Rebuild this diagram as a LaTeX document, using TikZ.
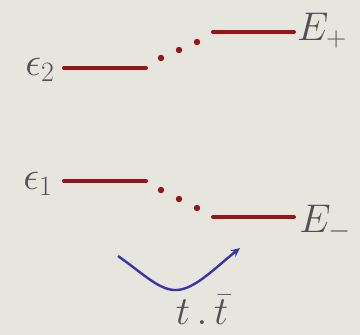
\RequirePackage{fix-cm}
\documentclass[tikz,border=0pt]{standalone}
\usetikzlibrary{arrows.meta}
\definecolor{bg}{RGB}{230,230,222}
\definecolor{lvl}{RGB}{150,20,25}
\definecolor{arr}{RGB}{60,50,170}
\definecolor{txt}{RGB}{80,80,85}
\begin{document}
\begin{tikzpicture}[x=1pt,y=-1pt,
  level/.style={draw=lvl,line width=4pt,line cap=round},
  lbl/.style={text=txt,font=\fontsize{40}{44}\selectfont,inner sep=0pt},
  dotc/.style={fill=lvl,draw=none}]
\fill[bg] (0,0) rectangle (360,335);
\useasboundingbox (0,0) rectangle (360,335);
% labels
\node[lbl] (e2) at (40,70) {$\epsilon_2$};
\node[lbl] (e1) at (38,184) {$\epsilon_1$};
\node[lbl] (Ep) at (322,31) {$E_+$};
\node[lbl] (Em) at (325,223) {$E_-$};
\node[lbl] (tt) at (202,310) {$t\,.\,\bar t$};
% level endpoints
\coordinate (a1) at (64,68); \coordinate (a2) at (146,68);
\coordinate (b1) at (213,32); \coordinate (b2) at (294,32);
\coordinate (c1) at (64,181); \coordinate (c2) at (146,181);
\coordinate (d1) at (213,217); \coordinate (d2) at (294,217);
\draw[level] (a1) -- (a2);
\draw[level] (b1) -- (b2);
\draw[level] (c1) -- (c2);
\draw[level] (d1) -- (d2);
% dotted connectors
\foreach \p in {(161,58),(179,50),(197,42),(161,190),(179,199),(197,208)}
  \fill[dotc] \p circle (3.2pt);
% blue arrow
\coordinate (s) at (118,256);
\coordinate (m) at (177,290);
\coordinate (f) at (240,248);
\draw[arr,line width=2.4pt,-{Stealth[length=9pt,width=8pt]}]
  (s) .. controls (145,275) and (160,291) .. (m)
      .. controls (195,289) and (215,268) .. (f);
\end{tikzpicture}
\end{document}
